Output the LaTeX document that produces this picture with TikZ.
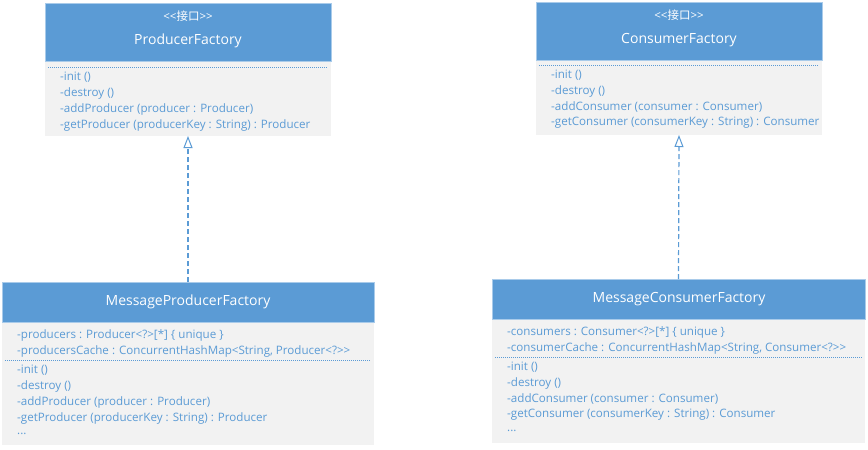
\documentclass[tikz,border=0pt]{standalone}
\usepackage{fontspec}
\setmainfont{Open Sans}
\newfontfamily\cjk{Noto Sans CJK SC}
\usetikzlibrary{arrows.meta}
\definecolor{hdr}{HTML}{5B9BD5}
\definecolor{hdrline}{HTML}{A9CBEA}
\definecolor{bodyfill}{HTML}{F2F2F2}
\definecolor{txt}{HTML}{5B9BD5}
\begin{document}
\begin{tikzpicture}[x=1pt,y=-1pt,
  hdrbox/.style={draw=hdrline, fill=hdr, line width=0.8pt, anchor=north west, inner sep=0pt, outer sep=0pt},
  bodybox/.style={fill=bodyfill, draw=none, anchor=north west, inner sep=0pt, outer sep=0pt},
  member/.style={anchor=west, text=txt, font=\fontsize{11.6}{13}\selectfont, inner sep=0pt},
  title/.style={text=white, font=\fontsize{14}{16}\selectfont, inner sep=0pt},
  stereo/.style={text=white, font=\fontsize{11.5}{13}\selectfont, inner sep=0pt},
  sepline/.style={draw=txt, line width=0.6pt, dash pattern=on 1pt off 1pt},
  realize/.style={draw=txt, line width=1.2pt, dash pattern=on 5pt off 3pt, -{Triangle[open, length=12pt, width=9pt, fill=white, line width=1pt]}}
]
\useasboundingbox (0,0) rectangle (868,450);
\fill[white] (0,0) rectangle (868,450);

% ProducerFactory
\node[bodybox, minimum width=286pt, minimum height=75pt] (pfb) at (45,61) {};
\node[hdrbox, minimum width=286pt, minimum height=58pt] (pfh) at (45,3) {};
\node[stereo] (pfs) at (188,16) {<{}<{\cjk 接口}>{}>};
\node[title] (pft) at (188,41) {ProducerFactory};
\coordinate (pfsa) at (48,67);
\coordinate (pfsb) at (328,67);
\draw[sepline] (pfsa) -- (pfsb);
\node[member] (pf1) at (60,77) {-init ()};
\node[member] (pf2) at (60,93) {-destroy ()};
\node[member] (pf3) at (60,109) {-addProducer (producer : Producer)};
\node[member] (pf4) at (60,125) {-getProducer (producerKey : String) : Producer};

% ConsumerFactory
\node[bodybox, minimum width=286pt, minimum height=75pt] (cfb) at (536,60) {};
\node[hdrbox, minimum width=286pt, minimum height=58pt] (cfh) at (536,2) {};
\node[stereo] (cfs) at (679,15) {<{}<{\cjk 接口}>{}>};
\node[title] (cft) at (679,40) {ConsumerFactory};
\coordinate (cfsa) at (539,65);
\coordinate (cfsb) at (819,65);
\draw[sepline] (cfsa) -- (cfsb);
\node[member] (cf1) at (551,75) {-init ()};
\node[member] (cf2) at (551,91) {-destroy ()};
\node[member] (cf3) at (551,107) {-addConsumer (consumer : Consumer)};
\node[member] (cf4) at (551,123) {-getConsumer (consumerKey : String) : Consumer};

% MessageProducerFactory
\node[bodybox, minimum width=372pt, minimum height=123pt] (mpfb) at (2,322) {};
\node[hdrbox, minimum width=372pt, minimum height=40pt] (mpfh) at (2,282) {};
\node[title] (mpft) at (188,302) {MessageProducerFactory};
\node[member] (mpa1) at (17,335) {-producers : Producer<?>[*] \{ unique \}};
\node[member] (mpa2) at (17,351) {-producersCache : ConcurrentHashMap<String, Producer<?>{}>};
\coordinate (mpsa) at (5,360);
\coordinate (mpsb) at (371,360);
\draw[sepline] (mpsa) -- (mpsb);
\node[member] (mp1) at (17,370) {-init ()};
\node[member] (mp2) at (17,386) {-destroy ()};
\node[member] (mp3) at (17,402) {-addProducer (producer : Producer)};
\node[member] (mp4) at (17,418) {-getProducer (producerKey : String) : Producer};
\node[member] (mp5) at (17,434) {...};

% MessageConsumerFactory
\node[bodybox, minimum width=373pt, minimum height=124pt] (mcfb) at (492,319) {};
\node[hdrbox, minimum width=373pt, minimum height=40pt] (mcfh) at (492,279) {};
\node[title] (mcft) at (679,299) {MessageConsumerFactory};
\node[member] (mca1) at (507,332) {-consumers : Consumer<?>[*] \{ unique \}};
\node[member] (mca2) at (507,348) {-consumerCache : ConcurrentHashMap<String, Consumer<?>{}>};
\coordinate (mcsa) at (495,357);
\coordinate (mcsb) at (862,357);
\draw[sepline] (mcsa) -- (mcsb);
\node[member] (mc1) at (507,367) {-init ()};
\node[member] (mc2) at (507,383) {-destroy ()};
\node[member] (mc3) at (507,399) {-addConsumer (consumer : Consumer)};
\node[member] (mc4) at (507,415) {-getConsumer (consumerKey : String) : Consumer};
\node[member] (mc5) at (507,431) {...};

% realizations
\draw[realize] (mpfh.north) -- (pfb.south);
\draw[realize] (mcfh.north) -- (cfb.south);
\end{tikzpicture}
\end{document}
